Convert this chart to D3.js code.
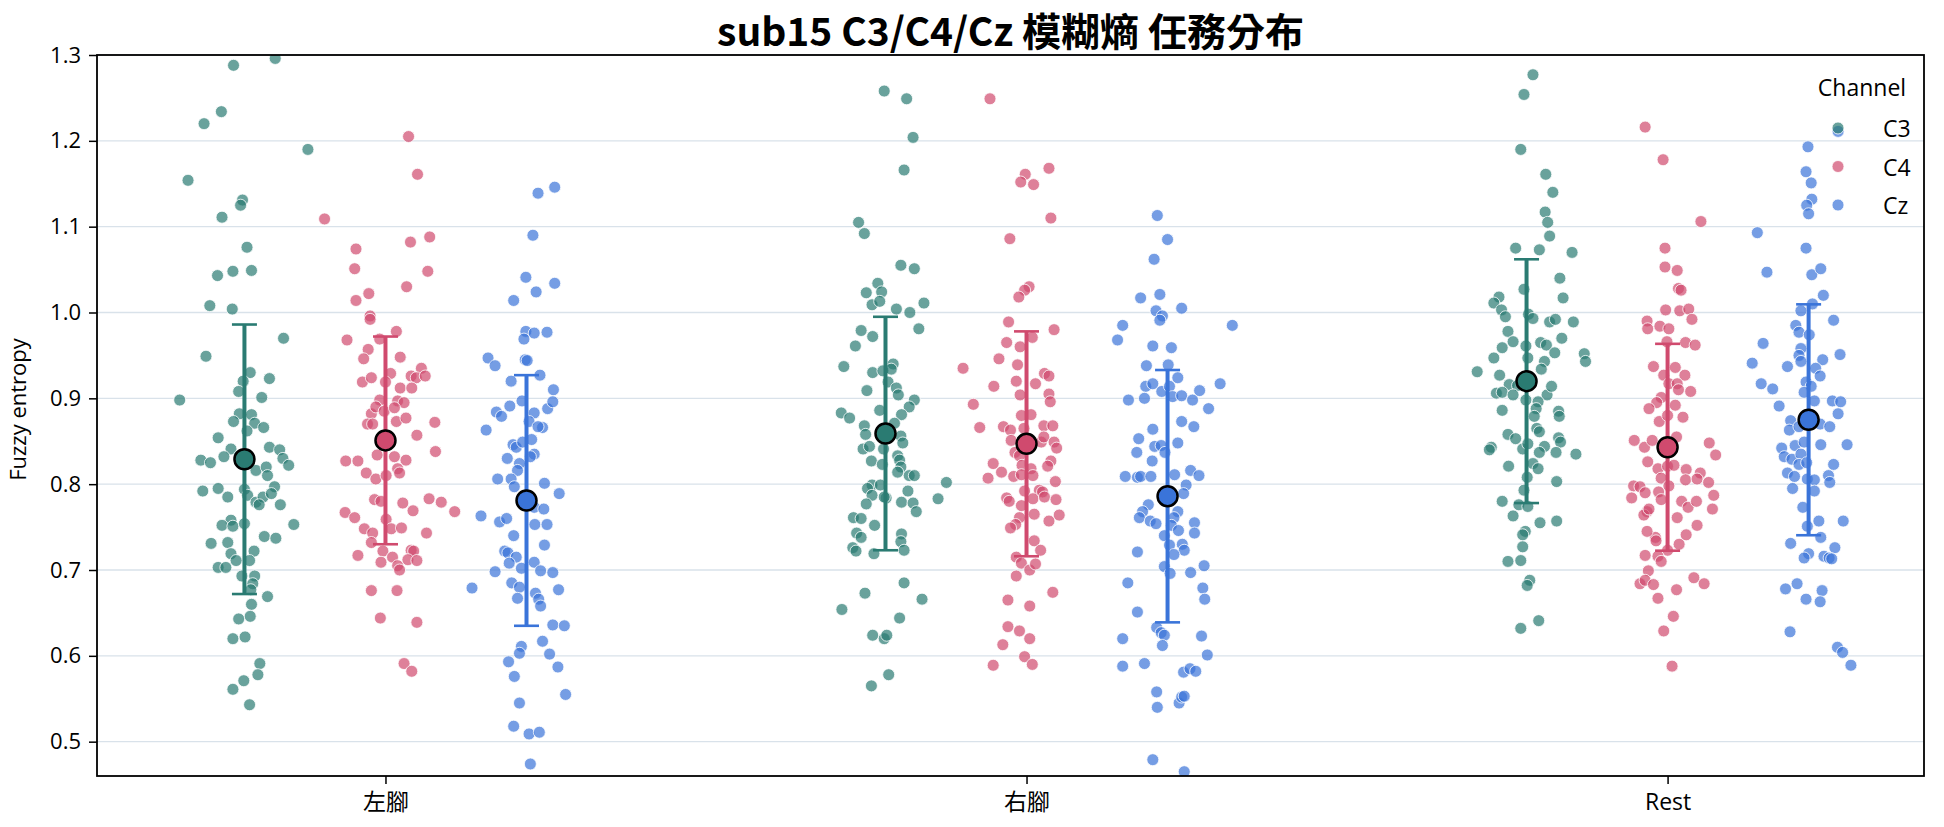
<!DOCTYPE html>
<html><head><meta charset="utf-8">
<script src="https://cdn.jsdelivr.net/npm/d3@7"></script>
<style>
body{margin:0;background:#fff}
text{font-family:"Open Sans","Noto Sans CJK TC",sans-serif}
</style>
</head><body><svg id="chart" width="1944" height="827"></svg>
<script>
const title = "sub15 C3/C4/Cz 模糊熵 任務分布";
const tasks = ["左腳","右腳","Rest"];
const channels = ["C3","C4","Cz"];
const yTicks = [0.5,0.6,0.7,0.8,0.9,1.0,1.1,1.2,1.3];
const colors = ["#2a7b72","#d04a6e","#3a74d9"];

// C3 / 左腳
const c3_left = [1.288,1.296,1.234,1.220,1.190,1.154,1.131,1.125,1.111,1.076,1.043,1.048,1.049,1.008,1.004,0.970,0.949,0.930,0.923,0.920,0.908,0.901,0.898,0.882,0.881,0.873,0.871,0.866,0.862,0.854,0.841,0.843,0.840,0.828,0.825,0.832,0.833,0.830,0.822,0.816,0.820,0.810,0.797,0.792,0.795,0.785,0.794,0.787,0.779,0.785,0.789,0.776,0.776,0.758,0.752,0.751,0.754,0.753,0.739,0.737,0.731,0.732,0.722,0.719,0.711,0.703,0.703,0.711,0.693,0.693,0.684,0.677,0.669,0.660,0.646,0.643,0.620,0.622,0.591,0.578,0.571,0.561,0.543];
const c3_left_jit = [-0.017,0.048,-0.036,-0.063,0.099,-0.088,-0.003,-0.006,-0.035,0.004,-0.042,-0.018,0.011,-0.054,-0.019,0.061,-0.060,0.009,0.039,-0.002,-0.009,0.027,-0.101,-0.008,0.011,-0.017,0.016,0.030,0.004,-0.041,-0.021,0.039,0.055,-0.068,-0.053,-0.032,-0.008,0.060,0.069,0.018,0.034,0.036,0.047,-0.065,-0.041,-0.026,0,0.005,0.018,0.029,0.042,0.023,0.056,-0.021,-0.035,-0.018,0,0.077,0.031,0.049,-0.052,-0.026,0.015,-0.021,-0.013,-0.041,-0.029,0.008,-0.004,0.016,0.013,0.010,0.036,0.011,0.009,-0.009,-0.018,0.001,0.024,0.021,-0.001,-0.018,0.008];
// C4 / 左腳
const c4_left = [1.205,1.161,1.109,1.074,1.082,1.088,1.051,1.048,1.022,1.030,1.014,0.996,0.992,0.968,0.969,0.978,0.957,0.946,0.948,0.935,0.919,0.924,0.929,0.919,0.926,0.924,0.926,0.912,0.912,0.898,0.897,0.895,0.882,0.890,0.885,0.889,0.870,0.870,0.873,0.877,0.872,0.857,0.834,0.838,0.827,0.827,0.832,0.828,0.813,0.806,0.810,0.818,0.813,0.782,0.780,0.778,0.769,0.783,0.779,0.768,0.767,0.761,0.759,0.748,0.743,0.748,0.749,0.743,0.732,0.722,0.723,0.722,0.717,0.709,0.715,0.705,0.700,0.712,0.711,0.676,0.676,0.644,0.639,0.591,0.582];
const c4_left_jit = [0.036,0.050,-0.095,-0.046,0.039,0.069,-0.048,0.066,-0.026,0.033,-0.046,-0.024,-0.024,-0.060,-0.009,0.017,-0.027,-0.034,0.023,0.056,-0.036,-0.022,0.008,0,0.040,0.048,0.062,0.023,0.041,-0.009,0.019,0.029,-0.022,-0.015,-0.002,0.014,-0.028,-0.020,0.017,0.032,0.077,0.049,-0.013,0.078,-0.062,-0.043,0.014,0.032,-0.030,-0.015,0.001,0.019,0.022,-0.017,-0.007,0.027,0.043,0.068,0.087,0.108,-0.063,-0.048,0.001,-0.033,-0.020,0.009,0.025,0.064,-0.022,-0.004,0.040,0.044,-0.043,-0.007,0.011,0.019,0.022,0.035,0.049,-0.022,0.018,-0.008,0.049,0.029,0.041];
// Cz / 左腳
const cz_left = [1.146,1.139,1.090,1.041,1.034,1.024,1.014,0.978,0.976,0.977,0.969,0.947,0.938,0.945,0.944,0.920,0.927,0.910,0.897,0.891,0.884,0.879,0.883,0.888,0.896,0.863,0.873,0.866,0.867,0.846,0.843,0.849,0.852,0.835,0.832,0.830,0.824,0.816,0.806,0.806,0.797,0.801,0.789,0.763,0.756,0.760,0.773,0.771,0.753,0.753,0.740,0.729,0.722,0.720,0.715,0.708,0.709,0.698,0.702,0.699,0.697,0.685,0.680,0.667,0.673,0.666,0.658,0.679,0.677,0.636,0.635,0.617,0.611,0.603,0.602,0.593,0.587,0.576,0.555,0.545,0.518,0.509,0.511,0.474];
const cz_left_jit = [0.044,0.018,0.010,-0.001,0.044,0.015,-0.020,-0.001,0.012,0.032,-0.004,-0.060,-0.049,-0.002,0.001,-0.024,0.021,0.042,-0.007,-0.026,-0.047,-0.039,0.012,0.033,0.041,-0.063,0.004,0.025,0.018,-0.021,-0.016,-0.006,0.008,0.012,0.006,-0.030,-0.011,-0.014,-0.045,-0.024,-0.019,0.028,0.051,-0.071,-0.042,-0.031,0.012,0.027,0.013,0.032,-0.020,0.028,-0.034,-0.029,-0.016,-0.027,0.012,-0.049,-0.008,0.022,0.041,-0.023,-0.011,-0.014,0.014,0.019,0.022,-0.085,0.050,0.041,0.059,0.025,-0.008,-0.011,0.036,-0.028,0.049,-0.019,0.061,-0.011,-0.020,0.004,0.020,0.006];
// C3 / 右腳
const c3_right = [1.258,1.249,1.204,1.166,1.105,1.092,1.055,1.051,1.034,1.023,1.024,1.009,1.013,1.004,1.000,1.011,0.979,0.972,0.981,0.961,0.937,0.930,0.932,0.940,0.934,0.919,0.909,0.912,0.904,0.886,0.883,0.877,0.898,0.890,0.881,0.871,0.868,0.858,0.856,0.848,0.841,0.844,0.841,0.833,0.827,0.823,0.828,0.820,0.814,0.810,0.810,0.799,0.799,0.795,0.792,0.802,0.787,0.784,0.785,0.783,0.777,0.779,0.778,0.768,0.761,0.760,0.752,0.743,0.738,0.742,0.733,0.726,0.722,0.719,0.723,0.685,0.673,0.666,0.654,0.644,0.624,0.620,0.624,0.578,0.565];
const c3_right_jit = [-0.002,0.033,0.043,0.029,-0.042,-0.033,0.024,0.045,-0.012,-0.030,-0.006,-0.021,-0.009,0.017,0.038,0.060,-0.038,-0.020,0.052,-0.047,-0.065,-0.020,-0.004,0.012,0.009,0.004,-0.029,0.017,0.020,-0.009,-0.069,-0.056,0.045,0.037,0.025,0.014,-0.033,-0.031,0.024,0.027,-0.035,-0.025,-0.003,0.019,-0.022,-0.005,0.022,0.024,0.019,0.037,0.045,-0.021,-0.008,-0.028,0.035,0.095,-0.021,0.001,-0.002,0.082,-0.030,0.025,0.043,0.048,-0.050,-0.038,-0.017,-0.045,-0.038,0.025,0.024,-0.051,-0.046,-0.018,0.029,0.029,-0.032,0.057,-0.068,0.022,-0.020,-0.002,0.002,0.005,-0.022];
// C4 / 右腳
const c4_right = [1.249,1.168,1.161,1.152,1.149,1.110,1.086,1.030,1.026,1.018,0.989,0.980,0.965,0.971,0.960,0.946,0.935,0.939,0.929,0.926,0.914,0.920,0.917,0.904,0.905,0.896,0.893,0.881,0.880,0.866,0.867,0.863,0.865,0.868,0.868,0.851,0.849,0.855,0.849,0.842,0.837,0.833,0.824,0.814,0.807,0.809,0.822,0.818,0.827,0.821,0.811,0.810,0.803,0.792,0.793,0.791,0.784,0.780,0.783,0.775,0.785,0.782,0.765,0.764,0.761,0.757,0.753,0.749,0.734,0.723,0.715,0.708,0.700,0.707,0.693,0.674,0.665,0.658,0.634,0.629,0.620,0.613,0.599,0.590,0.589];
const c4_right_jit = [-0.057,0.035,-0.002,-0.009,0.011,0.038,-0.026,0.004,-0.003,-0.012,-0.028,0.043,-0.031,0.009,-0.010,-0.043,-0.099,-0.014,0.028,0.035,-0.051,-0.016,0.014,-0.010,0.035,0.037,-0.083,0.007,-0.008,-0.073,-0.036,-0.025,-0.004,0.027,0.041,-0.024,0.023,0.027,0.043,0.047,-0.018,-0.011,-0.052,-0.039,-0.060,-0.020,-0.007,0.007,0.038,0.033,-0.008,0.010,0.045,-0.003,0.020,0.025,-0.031,-0.027,0.010,-0.008,0.028,0.046,0.012,0.051,-0.011,0.035,-0.017,-0.025,0.012,0.022,-0.016,-0.008,0.005,0.014,-0.016,0.041,-0.029,0.005,-0.029,-0.011,0.005,-0.037,-0.003,0.009,-0.052];
// Cz / 右腳
const cz_right = [1.113,1.085,1.062,1.017,1.021,1.005,1.002,0.996,0.991,0.985,0.985,0.968,0.961,0.959,0.938,0.939,0.924,0.914,0.917,0.908,0.914,0.909,0.917,0.898,0.900,0.902,0.903,0.898,0.888,0.873,0.867,0.864,0.853,0.848,0.844,0.845,0.837,0.837,0.827,0.809,0.808,0.809,0.809,0.811,0.816,0.810,0.799,0.789,0.776,0.768,0.761,0.757,0.754,0.768,0.761,0.752,0.746,0.755,0.743,0.740,0.729,0.730,0.723,0.718,0.721,0.704,0.696,0.697,0.705,0.685,0.679,0.666,0.651,0.633,0.627,0.624,0.612,0.620,0.623,0.601,0.588,0.591,0.581,0.585,0.582,0.558,0.540,0.545,0.552,0.553,0.479,0.465];
const cz_right_jit = [-0.016,0,-0.021,-0.042,-0.012,0.022,-0.018,-0.008,-0.012,-0.070,0.101,-0.078,-0.023,0.006,-0.033,0.001,0.016,-0.034,-0.023,-0.009,0.003,0.050,0.082,-0.061,-0.036,0.008,0.022,0.039,0.064,0.022,0.041,-0.023,-0.045,0.016,-0.020,-0.010,-0.048,-0.004,-0.024,-0.066,-0.047,-0.042,-0.026,0.011,0.036,0.049,0.029,0.025,-0.030,-0.039,-0.044,-0.027,-0.018,0.016,0.010,0.006,0.017,0.042,0.042,-0.005,0.003,0.023,0.026,0.010,-0.047,-0.005,0.004,0.036,0.057,-0.062,0.055,0.058,-0.047,-0.017,-0.010,-0.005,-0.008,-0.070,0.053,0.062,-0.070,-0.036,0.025,0.035,0.044,-0.017,-0.016,0.018,0.022,0.026,-0.023,0.026];
// C3 / Rest
const c3_rest = [1.277,1.254,1.190,1.161,1.140,1.117,1.105,1.089,1.075,1.073,1.070,1.040,1.027,1.017,1.018,1.011,1.003,0.995,0.998,0.993,0.989,0.992,0.989,0.978,0.966,0.959,0.970,0.947,0.961,0.965,0.962,0.953,0.952,0.943,0.947,0.943,0.934,0.931,0.927,0.916,0.915,0.906,0.907,0.904,0.904,0.914,0.898,0.896,0.888,0.879,0.886,0.885,0.879,0.865,0.861,0.858,0.853,0.841,0.847,0.844,0.854,0.849,0.837,0.835,0.843,0.840,0.837,0.821,0.824,0.818,0.808,0.803,0.793,0.780,0.776,0.774,0.763,0.755,0.757,0.745,0.741,0.727,0.710,0.711,0.688,0.682,0.641,0.632];
const c3_rest_jit = [0.010,-0.004,-0.009,0.030,0.041,0.029,0.033,0.036,-0.017,0.020,0.071,0.052,-0.004,0.057,-0.043,-0.051,-0.039,-0.033,0.003,0.010,0.036,0.045,0.073,-0.029,-0.021,-0.038,0.055,-0.051,-0.001,0.022,0.031,0.044,0.090,0.092,0.002,0.028,0.023,-0.077,-0.042,-0.027,-0.014,-0.047,-0.038,-0.021,0.032,0.039,-0.001,0.018,0.015,0.012,-0.038,0.050,0.051,0.016,0.020,-0.029,-0.017,-0.006,0.002,0.028,0.050,0.053,0.046,0.077,-0.055,-0.058,0.020,-0.028,0.010,0.018,0.001,0.047,-0.004,-0.038,-0.012,0.002,-0.021,0.021,0.047,-0.002,-0.006,-0.006,-0.029,-0.009,0.005,0.001,0.019,-0.009];
// C4 / Rest
const c4_rest = [1.216,1.178,1.106,1.075,1.053,1.049,1.028,1.026,1.003,1.002,1.004,0.990,0.981,0.984,0.981,0.992,0.966,0.965,0.962,0.937,0.936,0.927,0.927,0.917,0.917,0.910,0.908,0.901,0.895,0.892,0.888,0.873,0.880,0.878,0.851,0.843,0.851,0.855,0.848,0.834,0.826,0.818,0.821,0.822,0.817,0.813,0.805,0.807,0.806,0.802,0.798,0.797,0.790,0.798,0.784,0.791,0.782,0.780,0.773,0.780,0.787,0.771,0.768,0.764,0.771,0.761,0.738,0.734,0.745,0.741,0.752,0.730,0.723,0.717,0.716,0.710,0.699,0.684,0.688,0.683,0.667,0.677,0.691,0.684,0.646,0.629,0.588];
const c4_rest_jit = [-0.035,-0.007,0.052,-0.004,-0.004,0.015,0.017,0.021,-0.003,0.019,0.033,-0.032,-0.031,-0.012,0.002,0.038,-0.001,0.028,0.043,-0.022,0.012,-0.006,0.027,0.002,0.015,0.017,0.036,-0.010,-0.017,0.012,-0.029,-0.013,0,0.024,-0.052,-0.036,-0.024,0.014,0.065,0.075,-0.031,-0.015,0,0.010,0.029,0.051,0.028,-0.010,0.046,0.064,-0.053,-0.043,-0.035,0.002,-0.056,-0.014,-0.010,0.022,0.032,0.045,0.072,0.070,-0.032,-0.037,-0.029,0.015,-0.019,-0.018,-0.032,0.029,0.046,0.018,0,-0.035,-0.015,-0.010,-0.030,-0.043,-0.035,-0.022,-0.015,0.014,0.041,0.057,0.009,-0.006,0.007];
// Cz / Rest
const cz_rest = [1.193,1.164,1.151,1.132,1.125,1.115,1.211,1.093,1.075,1.047,1.044,1.051,1.020,1.002,1.010,0.991,0.985,0.977,0.974,0.964,0.958,0.950,0.941,0.937,0.943,0.945,0.951,0.935,0.926,0.917,0.911,0.919,0.914,0.907,0.891,0.897,0.897,0.896,0.882,0.874,0.863,0.867,0.870,0.867,0.842,0.845,0.849,0.846,0.846,0.832,0.829,0.835,0.823,0.825,0.823,0.813,0.809,0.806,0.805,0.810,0.802,0.795,0.792,0.773,0.757,0.757,0.751,0.731,0.738,0.726,0.719,0.714,0.716,0.714,0.713,0.684,0.678,0.666,0.676,0.663,0.628,0.610,0.604,0.589];
const cz_rest_jit = [-0.001,-0.004,0.004,0.005,-0.003,0,0.046,-0.080,-0.004,-0.065,0.005,0.019,0.023,-0.012,0.006,0.039,-0.020,-0.015,0.001,-0.071,-0.012,-0.015,-0.088,-0.033,-0.012,0.022,0.049,0.011,0.018,-0.074,-0.056,-0.004,0.004,-0.007,-0.046,0.009,0.037,0.050,0.046,-0.028,-0.030,-0.015,0.018,0.033,-0.042,-0.021,-0.007,0.019,0.060,-0.038,-0.026,-0.012,-0.015,-0.003,0.039,-0.033,-0.022,-0.002,0.009,0.031,0.033,-0.025,0.009,-0.009,0.054,0.016,-0.002,-0.028,0.019,0.041,0,-0.007,0.024,0.032,0.036,-0.018,-0.036,-0.004,0.021,0.018,-0.029,0.045,0.053,0.066];

// mean and SD per task (左腳, 右腳, Rest)
const meanC3 = [0.829,0.859,0.920], sdC3 = [0.157,0.136,0.142];
const meanC4 = [0.851,0.847,0.843], sdC4 = [0.121,0.131,0.1205];
const meanCz = [0.781,0.786,0.875], sdCz = [0.146,0.147,0.1345];

const groups = [
  {ch:0,task:0,vals:c3_left,jit:c3_left_jit},{ch:1,task:0,vals:c4_left,jit:c4_left_jit},{ch:2,task:0,vals:cz_left,jit:cz_left_jit},
  {ch:0,task:1,vals:c3_right,jit:c3_right_jit},{ch:1,task:1,vals:c4_right,jit:c4_right_jit},{ch:2,task:1,vals:cz_right,jit:cz_right_jit},
  {ch:0,task:2,vals:c3_rest,jit:c3_rest_jit},{ch:1,task:2,vals:c4_rest,jit:c4_rest_jit},{ch:2,task:2,vals:cz_rest,jit:cz_rest_jit}
];
const stats = [[meanC3,sdC3],[meanC4,sdC4],[meanCz,sdCz]];
const hueOffset = [-0.22,0,0.22];

const svg = d3.select("#chart");
const L=97,R=1924,T=55,B=776;
const x = d3.scaleLinear().domain([-0.45,2.40]).range([L,R]);
const y = d3.scaleLinear().domain([0.46,1.30]).range([B,T]);

svg.append("defs").append("clipPath").attr("id","clip")
  .append("rect").attr("x",L).attr("y",T).attr("width",R-L).attr("height",B-T);

// grid
svg.append("g").selectAll("line").data(yTicks).join("line")
  .attr("x1",L).attr("x2",R).attr("y1",d=>y(d)).attr("y2",d=>y(d))
  .attr("stroke","#d9e2ea").attr("stroke-width",1.3);

// points
const pts = [];
groups.forEach(g=>g.vals.forEach((v,i)=>pts.push({ch:g.ch,task:g.task,v,j:g.jit[i]||0})));
svg.append("g").attr("clip-path","url(#clip)").selectAll("circle").data(pts).join("circle")
  .attr("cx",d=>x(d.task+hueOffset[d.ch]+d.j)).attr("cy",d=>y(d.v)).attr("r",6)
  .attr("fill",d=>colors[d.ch]).attr("fill-opacity",0.7)
  .attr("stroke","#fff").attr("stroke-width",0.8);

// error bars + means
const eb = svg.append("g");
channels.forEach((c,ci)=>{
  tasks.forEach((t,ti)=>{
    const m = stats[ci][0][ti], s = stats[ci][1][ti];
    const cx = x(ti+hueOffset[ci]);
    eb.append("line").attr("x1",cx).attr("x2",cx).attr("y1",y(m-s)).attr("y2",y(m+s))
      .attr("stroke",colors[ci]).attr("stroke-width",4);
    [m-s,m+s].forEach(e=>eb.append("line").attr("x1",cx-12.5).attr("x2",cx+12.5)
      .attr("y1",y(e)).attr("y2",y(e)).attr("stroke",colors[ci]).attr("stroke-width",2.6));
    eb.append("circle").attr("cx",cx).attr("cy",y(m)).attr("r",10)
      .attr("fill",colors[ci]).attr("stroke","#000").attr("stroke-width",2.5);
  });
});

// axes
const yAxis = svg.append("g").attr("transform",`translate(${L},0)`)
  .call(d3.axisLeft(y).tickValues(yTicks).tickFormat(d3.format(".1f")).tickSize(8).tickPadding(8));
const xAxis = svg.append("g").attr("transform",`translate(0,${B})`)
  .call(d3.axisBottom(x).tickValues([0,1,2]).tickFormat(i=>tasks[i]).tickSize(8).tickPadding(10));
[yAxis,xAxis].forEach(a=>{
  a.select(".domain").remove();
  a.selectAll(".tick line").attr("stroke","#000").attr("stroke-width",1.5);
  a.selectAll("text").attr("fill","#000").style("font-size","22px")
    .style("font-family",'"Open Sans","Noto Sans CJK TC",sans-serif');
});
xAxis.selectAll("text").style("font-size","23px");

// frame
svg.append("rect").attr("x",L).attr("y",T).attr("width",R-L).attr("height",B-T)
  .attr("fill","none").attr("stroke","#000").attr("stroke-width",1.8);

// title & labels
svg.append("text").attr("x",(L+R)/2).attr("y",46).attr("text-anchor","middle")
  .style("font-family",'"Noto Sans CJK TC",sans-serif')
  .style("font-size","39px").style("font-weight","bold").text(title);
svg.append("text").attr("transform",`translate(20,${(T+B)/2 - 6}) rotate(-90)`)
  .attr("text-anchor","middle").attr("dominant-baseline","middle")
  .style("font-size","22px").text("Fuzzy entropy");

// legend
const lg = svg.append("g");
lg.append("text").attr("x",1862).attr("y",96).attr("text-anchor","middle").style("font-size","23px").text("Channel");
channels.forEach((c,i)=>{
  const yy = 128 + i*38.5;
  lg.append("circle").attr("cx",1838).attr("cy",yy).attr("r",6).attr("fill",colors[i])
    .attr("fill-opacity",0.7).attr("stroke","#fff").attr("stroke-width",0.8);
  lg.append("text").attr("x",1883).attr("y",yy).attr("dominant-baseline","central").style("font-size","23px").text(c);
});
</script></body></html>
